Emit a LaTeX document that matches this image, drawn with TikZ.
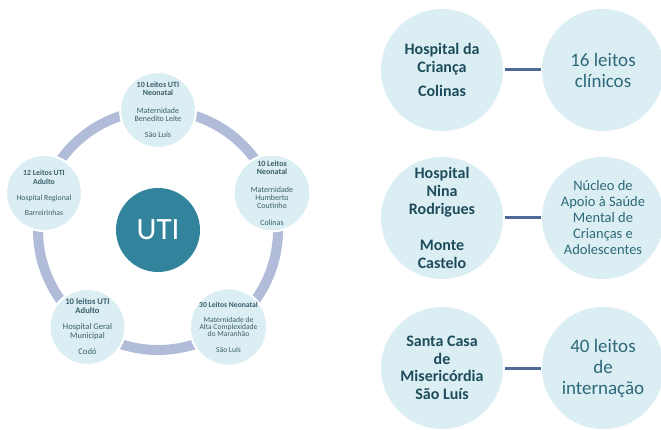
\documentclass[tikz,border=0pt]{standalone}
\usepackage{fontspec}
\setmainfont{Carlito}
\definecolor{nodefill}{RGB}{218,238,243}
\definecolor{utifill}{RGB}{49,132,155}
\definecolor{ringcol}{RGB}{176,188,216}
\definecolor{linkcol}{RGB}{79,106,150}
\definecolor{txtdark}{RGB}{30,76,92}
\definecolor{txtreg}{RGB}{46,104,122}
\definecolor{cyctxt}{RGB}{60,95,108}
\begin{document}
\begin{tikzpicture}[x=1pt,y=-1pt,
  cycnode/.style={circle, fill=nodefill, draw=white, line width=2pt, minimum size=76pt,
     inner sep=0pt, align=center, text=cyctxt, font=\fontsize{8}{8.3}\selectfont},
  bignode/.style={circle, fill=nodefill, minimum size=122pt, inner sep=0pt, align=center},
  boldtxt/.style={text=txtdark, font=\fontsize{16}{18}\selectfont\bfseries},
  regtxt/.style={text=txtreg},
  link/.style={draw=linkcol, line width=3pt, shorten <=2pt, shorten >=1pt}
]
\useasboundingbox (0,0) rectangle (661,430);
% ring
\draw[ringcol, line width=10pt] (158,230) circle (120);
% center
\node[circle, fill=utifill, minimum size=84pt, inner sep=0pt, text=white,
      font=\fontsize{31}{31}\selectfont] (uti) at (158,230) {UTI};
% cycle nodes
\node[cycnode] (c1) at (158,110) {\textbf{10 Leitos UTI}\\\textbf{Neonatal}\\[9pt]Maternidade\\Benedito Leite\\[8pt]São Luís};
\node[cycnode] (c2) at (272,193) {\textbf{10 Leitos}\\\textbf{Neonatal}\\[9pt]Maternidade\\Humberto\\Coutinho\\[8pt]Colinas};
\node[cycnode, font=\fontsize{7.6}{7.3}\selectfont] (c3) at (228.5,327) {\textbf{30 Leitos Neonatal}\\[8pt]Maternidade de\\Alta Complexidade\\do Maranhão\\[8pt]São Luís};
\node[cycnode, font=\fontsize{8.6}{8.5}\selectfont] (c4) at (87.5,327) {\textbf{10 leitos UTI}\\\textbf{Adulto}\\[8pt]Hospital Geral\\Municipal\\[8pt]Codó};
\node[cycnode, font=\fontsize{7.8}{8.3}\selectfont] (c5) at (44,193) {\textbf{12 Leitos UTI}\\\textbf{Adulto}\\[8pt]Hospital Regional\\[7pt]Barreirinhas};
% right side
\node[bignode, boldtxt] (h1) at (442,70) {Hospital da\\Criança\\[6pt]Colinas};
\node[bignode, regtxt, font=\fontsize{19}{21}\selectfont] (d1) at (603,70) {16 leitos\\clínicos};
\draw[link] (h1) -- (d1);
\node[bignode, boldtxt] (h2) at (442,218) {Hospital\\Nina\\Rodrigues\\[18pt]Monte\\Castelo};
\node[bignode, regtxt, font=\fontsize{14.5}{16}\selectfont] (d2) at (603,218) {Núcleo de\\Apoio à Saúde\\Mental de\\Crianças e\\Adolescentes};
\draw[link] (h2) -- (d2);
\node[bignode, boldtxt, font=\fontsize{16}{17.5}\selectfont\bfseries] (h3) at (442,368) {Santa Casa\\de\\Misericórdia\\São Luís};
\node[bignode, regtxt, font=\fontsize{19}{21}\selectfont] (d3) at (603,368) {40 leitos\\de\\internação};
\draw[link] (h3) -- (d3);
\end{tikzpicture}
\end{document}
